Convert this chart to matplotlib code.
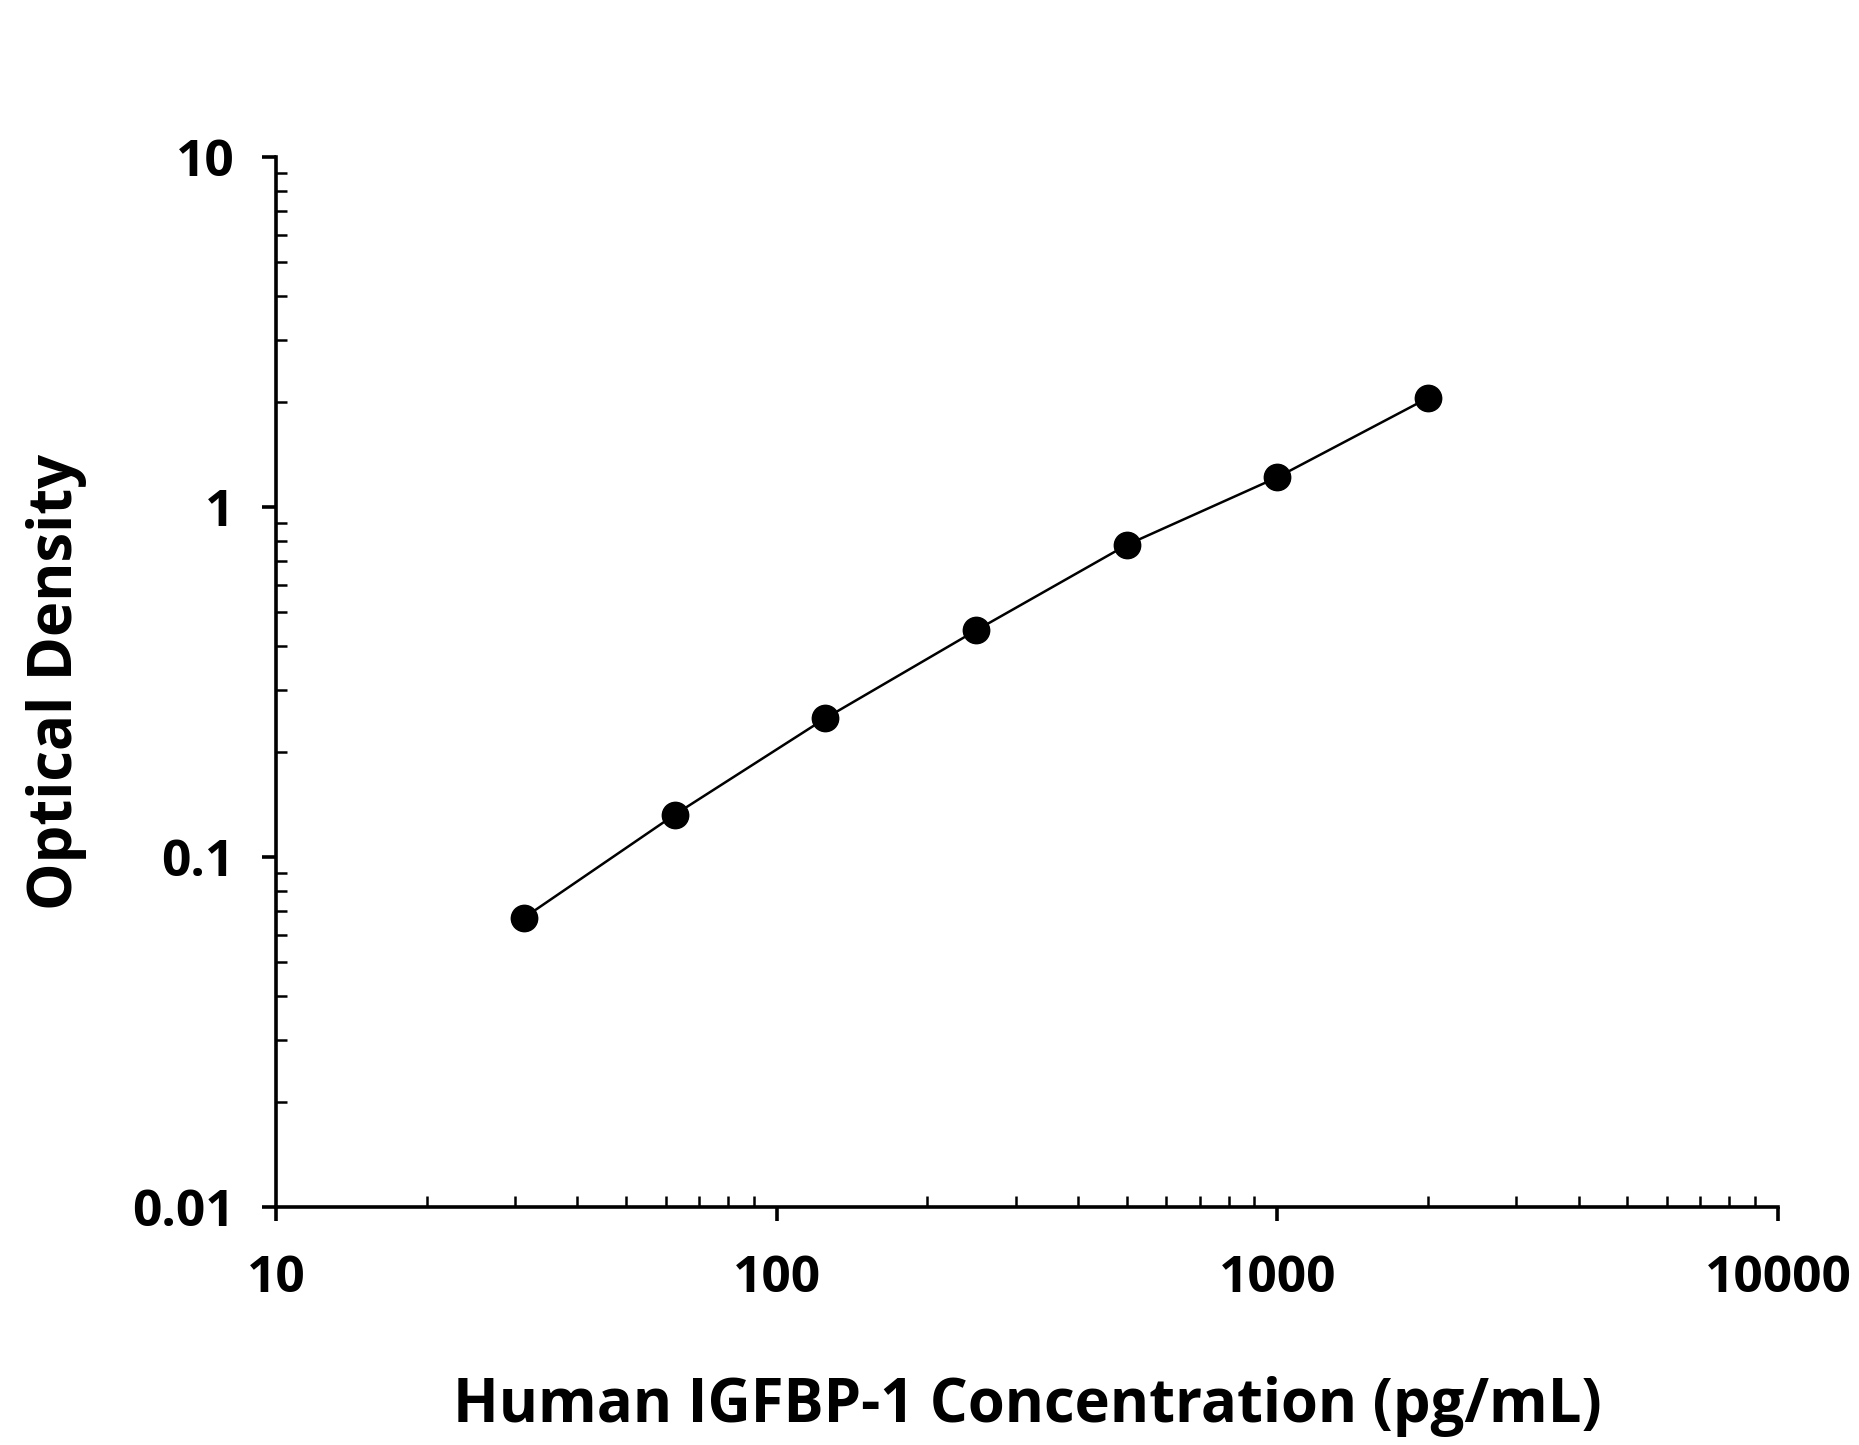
import matplotlib.pyplot as plt
from matplotlib.ticker import LogLocator, FixedLocator, NullFormatter

# standard curve data
concentration = [31.25, 62.5, 125, 250, 500, 1000, 2000]  # pg/mL
optical_density = [0.067, 0.132, 0.249, 0.444, 0.779, 1.216, 2.05]

x_ticks = [10, 100, 1000, 10000]
x_tick_labels = ["10", "100", "1000", "10000"]
y_ticks = [0.01, 0.1, 1, 10]
y_tick_labels = ["0.01", "0.1", "1", "10"]

plt.rcParams["font.family"] = ["Open Sans", "DejaVu Sans"]
plt.rcParams["font.weight"] = "bold"

fig = plt.figure(figsize=(18.59, 14.45), dpi=100)
ax = fig.add_axes([0.1485, 0.1647, 0.8079, 0.7266])

ax.plot(concentration, optical_density, color="black", linewidth=1.8, zorder=2)
ax.plot(concentration, optical_density, linestyle="none", marker="o",
        markersize=19, color="black", zorder=3)

ax.set_xscale("log")
ax.set_yscale("log")
ax.set_xlim(10, 10000)
ax.set_ylim(0.01, 10)

ax.xaxis.set_major_locator(FixedLocator(x_ticks))
ax.set_xticklabels(x_tick_labels)
ax.yaxis.set_major_locator(FixedLocator(y_ticks))
ax.set_yticklabels(y_tick_labels)
ax.xaxis.set_minor_locator(LogLocator(base=10, subs=range(2, 10)))
ax.yaxis.set_minor_locator(LogLocator(base=10, subs=range(2, 10)))
ax.xaxis.set_minor_formatter(NullFormatter())
ax.yaxis.set_minor_formatter(NullFormatter())

for side in ["top", "right"]:
    ax.spines[side].set_visible(False)
for side in ["left", "bottom"]:
    ax.spines[side].set_linewidth(2.6)

ax.tick_params(which="major", direction="out", length=10, width=2.6,
               labelsize=37)
ax.tick_params(axis="x", which="major", pad=24)
ax.tick_params(axis="y", which="major", pad=20)
ax.tick_params(which="minor", direction="in", length=8, width=1.8)

ax.set_xlabel("Human IGFBP-1 Concentration (pg/mL)", fontsize=43,
              fontweight="bold", labelpad=52)
ax.set_ylabel("Optical Density", fontsize=43, fontweight="bold", labelpad=32)

fig.savefig("out.png", dpi=100)
